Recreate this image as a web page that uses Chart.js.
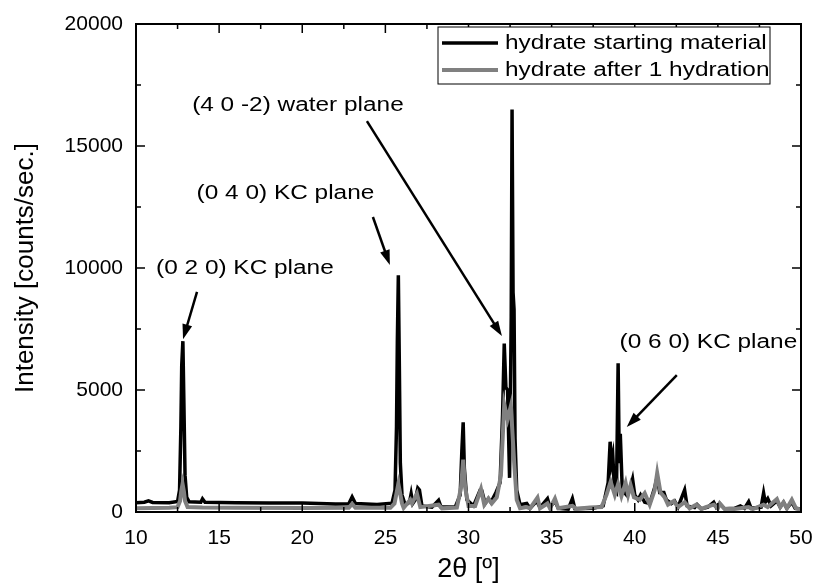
<!DOCTYPE html>
<html>
<head>
<meta charset="utf-8">
<title>XRD hydrate</title>
<script src="https://cdn.jsdelivr.net/npm/chart.js@4.4.1/dist/chart.umd.min.js"></script>
<style>
  body { margin: 0; background: #fff; }
  #wrap { width: 816px; height: 586px; }
</style>
</head>
<body>
<div id="wrap"><canvas id="chartXrd" width="816" height="586"></canvas></div>
<script>
//Black curve: hydrate starting material (2θ, counts/sec)
const starting2Theta = [10.0, 10.5, 10.75, 11.0, 12.0, 12.5, 12.62, 12.7, 12.75, 12.82, 12.88, 12.95, 13.05, 13.2, 13.9, 14.0, 14.15,
  16.0, 18.0, 20.0, 21.0, 22.0, 22.8, 23.0, 23.2, 24.5, 25.4, 25.58, 25.67, 25.72, 25.78, 25.84, 25.9, 26.0,
  26.2, 26.45, 26.55, 26.65, 26.8, 26.95, 27.05, 27.2, 27.8, 28.2, 28.35, 29.2, 29.5, 29.6, 29.68, 29.75, 29.9,
  30.3, 30.7, 30.8, 31.0, 31.2, 31.35, 31.65, 31.9, 32.05, 32.15, 32.25, 32.35, 32.47, 32.57, 32.62, 32.68, 32.74, 32.8, 32.9,
  33.1, 33.5, 33.7, 34.1, 34.3, 34.75, 34.9, 35.2, 35.4, 36.0, 36.25, 36.4, 37.5, 38.1, 38.4, 38.52, 38.6, 38.68, 38.78, 38.9,
  39.0, 39.07, 39.13, 39.25, 39.5, 39.7, 39.87, 40.0, 40.2, 40.35, 40.6, 40.9, 41.2, 41.35, 41.5, 41.75, 41.9,
  42.2, 42.4, 42.6, 43.0, 43.15, 43.6, 43.75, 44.0, 44.4, 44.75, 44.9, 45.1, 45.4, 46.0, 46.35, 46.6, 46.85, 47.0,
  47.6, 47.75, 47.85, 48.0, 48.2, 48.55, 48.75, 48.95, 49.15, 49.45, 49.65, 50.0];
const startingCounts = [380, 400, 460, 390, 380, 430, 900, 3500, 6000, 7000, 4500, 1500, 600, 420, 400, 540, 400,
  380, 370, 370, 350, 330, 340, 620, 350, 310, 360, 900, 3500, 7000, 9700, 6000, 2000, 700,
  280, 400, 750, 350, 500, 980, 900, 250, 200, 480, 200, 200, 700, 2500, 3680, 1800, 500,
  250, 900, 880, 350, 550, 400, 800, 1200, 4000, 6900, 5100, 5000, 1400, 8000, 16500, 9000, 8300, 3000, 900,
  300, 350, 150, 450, 180, 550, 200, 450, 150, 120, 550, 130, 150, 250, 1200, 2880, 2000, 2300, 900, 800,
  6100, 2000, 3200, 900, 700, 900, 1350, 700, 500, 700, 400, 350, 1000, 1450, 800, 800, 500,
  350, 450, 200, 900, 250, 180, 300, 130, 200, 400, 200, 350, 130, 150, 250, 150, 420, 150,
  200, 780, 400, 550, 250, 450, 200, 400, 150, 400, 150, 120];

//Grey curve: hydrate after 1 hydration
const hydrated2Theta = [10.0, 11.0, 12.0, 12.5, 12.65, 12.72, 12.8, 12.88, 12.95, 13.1, 14.0, 16.0, 20.0, 22.8, 23.0, 23.2,
  25.3, 25.55, 25.68, 25.78, 25.88, 26.0, 26.1, 26.5, 26.6, 26.9, 27.1, 28.2, 28.4, 29.3, 29.55, 29.68, 29.8, 30.0,
  30.4, 30.75, 30.95, 31.2, 31.4, 31.7, 31.95, 32.15, 32.35, 32.55, 32.75, 32.9, 33.1, 33.5, 33.7,
  34.15, 34.3, 34.75, 34.9, 35.2, 35.4, 36.25, 36.5, 37.3, 38.0, 38.3, 38.55, 38.8, 39.0, 39.2, 39.45, 39.6, 39.75, 39.95,
  40.3, 40.6, 40.9, 41.2, 41.35, 41.55, 41.8, 42.0, 42.35, 42.6, 43.0, 43.3, 43.7, 44.0, 44.27, 44.76, 45.0, 45.12, 45.4,
  46.0, 46.85, 47.1, 47.75, 48.0, 48.55, 48.75, 48.95, 49.15, 49.45, 49.7, 50.0];
const hydratedCounts = [150, 160, 170, 200, 450, 850, 1150, 850, 450, 200, 180, 170, 160, 170, 330, 170,
  170, 350, 800, 1150, 800, 350, 170, 500, 350, 750, 200, 300, 150, 180, 1000, 2150, 1000, 250,
  250, 940, 300, 550, 350, 600, 1500, 4400, 3800, 4350, 2000, 500, 150, 200, 150,
  590, 150, 350, 150, 550, 150, 250, 130, 180, 200, 700, 1240, 700, 1150, 650, 1200, 700, 1100, 600,
  500, 770, 300, 900, 1600, 800, 600, 300, 450, 200, 400, 150, 300, 120, 200, 300, 150, 350, 130,
  120, 200, 120, 300, 200, 530, 200, 400, 150, 500, 150, 100];

const seriesNames = ["hydrate starting material", "hydrate after 1 hydration"];
const xTicks = [10, 15, 20, 25, 30, 35, 40, 45, 50];
const yTicks = [0, 5000, 10000, 15000, 20000];

//Peak labels and arrows, in data coordinates (2θ, counts)
const peakLabels = ["(0 2 0) KC plane", "(0 4 0) KC plane", "(4 0 -2) water plane", "(0 6 0) KC plane"];
const labelAt = [[16.55, 9960], [18.99, 13070], [19.74, 16640], [44.43, 6930]];
const arrowFrom = [[13.67, 9020], [24.25, 12090], [23.89, 16020], [42.53, 5610]];
const arrowTo = [[12.83, 7080], [25.27, 10120], [32.01, 7210], [39.52, 3480]];

const toPoints = (xs, ys) => xs.map((x, i) => ({ x: x, y: ys[i] }));

//Text a bit wider than the font, like the original figure
const wideText = (ctx, text, x, y, align) => {
  ctx.save();
  ctx.translate(x, y);
  ctx.scale(1.22, 1);
  ctx.textAlign = align;
  ctx.textBaseline = "middle";
  ctx.fillText(text, 0, 0);
  ctx.restore();
};

const drawArrow = (ctx, x1, y1, x2, y2) => {
  const ang = Math.atan2(y2 - y1, x2 - x1);
  const len = 15, half = 5;
  ctx.beginPath();
  ctx.moveTo(x1, y1);
  ctx.lineTo(x2 - Math.cos(ang) * len * 0.8, y2 - Math.sin(ang) * len * 0.8);
  ctx.stroke();
  ctx.beginPath();
  ctx.moveTo(x2, y2);
  ctx.lineTo(x2 - Math.cos(ang) * len - Math.sin(ang) * half, y2 - Math.sin(ang) * len + Math.cos(ang) * half);
  ctx.lineTo(x2 - Math.cos(ang) * len + Math.sin(ang) * half, y2 - Math.sin(ang) * len - Math.cos(ang) * half);
  ctx.closePath();
  ctx.fill();
};

//Frame, inward ticks, legend and annotations
const extras = {
  id: "extras",
  afterDraw(chart) {
    const ctx = chart.ctx;
    const a = chart.chartArea;
    const sx = chart.scales.x, sy = chart.scales.y;
    ctx.save();
    ctx.strokeStyle = "#000";
    ctx.fillStyle = "#000";
    ctx.lineWidth = 2;
    ctx.strokeRect(a.left, a.top, a.right - a.left, a.bottom - a.top);

    ctx.lineWidth = 1.5;
    for (let v = 10; v <= 50; v += 2.5) {
      const px = sx.getPixelForValue(v);
      const l = v % 5 === 0 ? 9 : 5;
      ctx.beginPath();
      ctx.moveTo(px, a.bottom); ctx.lineTo(px, a.bottom - l);
      ctx.moveTo(px, a.top); ctx.lineTo(px, a.top + l);
      ctx.stroke();
    }
    for (let v = 0; v <= 20000; v += 2500) {
      const py = sy.getPixelForValue(v);
      const l = v % 5000 === 0 ? 9 : 5;
      ctx.beginPath();
      ctx.moveTo(a.left, py); ctx.lineTo(a.left + l, py);
      ctx.moveTo(a.right, py); ctx.lineTo(a.right - l, py);
      ctx.stroke();
    }

    //legend
    const boxR = a.right - 31, boxL = boxR - 332, boxT = a.top + 3;
    ctx.fillStyle = "#fff";
    ctx.fillRect(boxL, boxT, 332, 57);
    ctx.lineWidth = 1;
    ctx.strokeRect(boxL, boxT, 332, 57);
    ctx.font = "20px 'Liberation Sans', Arial, sans-serif";
    chart.data.datasets.forEach((ds, i) => {
      const y = boxT + 16 + i * 27;
      ctx.strokeStyle = ds.borderColor;
      ctx.lineWidth = ds.borderWidth;
      ctx.beginPath();
      ctx.moveTo(boxL + 4, y); ctx.lineTo(boxL + 60, y);
      ctx.stroke();
      ctx.fillStyle = "#000";
      wideText(ctx, ds.label, boxL + 67, y, "left");
    });

    //peak labels
    ctx.strokeStyle = "#000";
    ctx.fillStyle = "#000";
    ctx.lineWidth = 2.5;
    peakLabels.forEach((txt, i) => {
      wideText(ctx, txt, sx.getPixelForValue(labelAt[i][0]), sy.getPixelForValue(labelAt[i][1]), "center");
      drawArrow(ctx,
        sx.getPixelForValue(arrowFrom[i][0]), sy.getPixelForValue(arrowFrom[i][1]),
        sx.getPixelForValue(arrowTo[i][0]), sy.getPixelForValue(arrowTo[i][1]));
    });
    ctx.restore();
  }
};

const tickFont = { family: "'Liberation Sans', Arial, sans-serif", size: 21 };

new Chart(document.getElementById("chartXrd"), {
  type: "line",
  data: {
    datasets: [
      {
        label: seriesNames[0],
        data: toPoints(starting2Theta, startingCounts),
        borderColor: "#000000",
        borderWidth: 3.5,
        pointRadius: 0,
        tension: 0,
        order: 1
      },
      {
        label: seriesNames[1],
        data: toPoints(hydrated2Theta, hydratedCounts),
        borderColor: "#808080",
        borderWidth: 4,
        pointRadius: 0,
        tension: 0,
        order: 0
      }
    ]
  },
  options: {
    responsive: false,
    animation: false,
    devicePixelRatio: 1,
    layout: { padding: { left: 0, top: 24, right: 15, bottom: 0 } },
    plugins: { legend: { display: false }, tooltip: { enabled: false } },
    scales: {
      x: {
        type: "linear",
        min: 10,
        max: 50,
        grid: { display: false },
        border: { display: false },
        afterBuildTicks: (axis) => { axis.ticks = xTicks.map((v) => ({ value: v })); },
        afterFit: (axis) => { axis.height = 74; axis.paddingLeft = 0; axis.paddingRight = 0; },
        ticks: { color: "#000", font: tickFont, padding: 6, maxRotation: 0 },
        title: { display: true, text: "2θ [º]", color: "#000",
          font: { family: "'Liberation Sans', Arial, sans-serif", size: 27 }, padding: { top: 10, bottom: 0 } }
      },
      y: {
        min: 0,
        max: 20000,
        grid: { display: false },
        border: { display: false },
        afterBuildTicks: (axis) => { axis.ticks = yTicks.map((v) => ({ value: v })); },
        afterFit: (axis) => { axis.width = 136; },
        ticks: { color: "#000", font: tickFont, padding: 5, callback: (v) => String(v) },
        title: { display: true, text: "Intensity [counts/sec.]", color: "#000",
          font: { family: "'Liberation Sans', Arial, sans-serif", size: 26 }, padding: { top: 10, bottom: 0 } }
      }
    }
  },
  plugins: [extras]
});
</script>
</body>
</html>
